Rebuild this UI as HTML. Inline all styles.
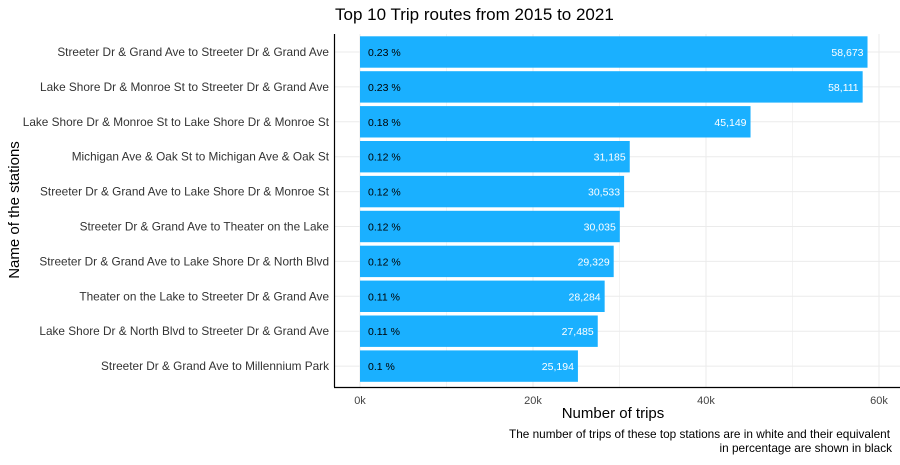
<!DOCTYPE html>
<html><head><meta charset="utf-8"><style>
body{margin:0;background:#fff;font-family:"Liberation Sans",sans-serif}
svg text{font-family:"Liberation Sans",sans-serif}
</style></head><body>
<svg id="chart" width="900" height="460" xmlns="http://www.w3.org/2000/svg">
<text x="335" y="20" font-size="17" fill="#000">Top 10 Trip routes from 2015 to 2021</text>
<g id="grid"></g><g id="bars"></g><g id="ylabels"></g><g id="xticks"></g>
<line x1="334.5" y1="34" x2="334.5" y2="387" stroke="#000" stroke-width="1.2"/>
<line x1="334" y1="387.5" x2="900" y2="387.5" stroke="#000" stroke-width="1.2"/>
<text x="613" y="418" font-size="15" text-anchor="middle">Number of trips</text>
<text transform="translate(19,210) rotate(-90)" font-size="15" text-anchor="middle">Name of the stations</text>
<text x="890" y="438" font-size="11.8" text-anchor="end">The number of trips of these top stations are in white and their equivalent</text>
<text x="892" y="452" font-size="11.8" text-anchor="end">in percentage are shown in black</text>
</svg>
<script>
const categories=["Streeter Dr & Grand Ave to Streeter Dr & Grand Ave","Lake Shore Dr & Monroe St to Streeter Dr & Grand Ave","Lake Shore Dr & Monroe St to Lake Shore Dr & Monroe St","Michigan Ave & Oak St to Michigan Ave & Oak St","Streeter Dr & Grand Ave to Lake Shore Dr & Monroe St","Streeter Dr & Grand Ave to Theater on the Lake","Streeter Dr & Grand Ave to Lake Shore Dr & North Blvd","Theater on the Lake to Streeter Dr & Grand Ave","Lake Shore Dr & North Blvd to Streeter Dr & Grand Ave","Streeter Dr & Grand Ave to Millennium Park"];
const trips=[58673,58111,45149,31185,30533,30035,29329,28284,27485,25194];
const percents=["0.23 %","0.23 %","0.18 %","0.12 %","0.12 %","0.12 %","0.12 %","0.11 %","0.11 %","0.1 %"];
const xTicks=[0,20000,40000,60000];
const xTickLabels=["0k","20k","40k","60k"];
const NS="http://www.w3.org/2000/svg";
const x=v=>360+v*(519/60000);
const y=i=>52+i*34.9;
function mk(t,a,p){const e=document.createElementNS(NS,t);for(const k in a)e.setAttribute(k,a[k]);p.appendChild(e);return e;}
const g=document.getElementById('grid'),b=document.getElementById('bars'),yl=document.getElementById('ylabels'),xt=document.getElementById('xticks');
for(let v=0;v<=60000;v+=10000){const l=mk('line',{x1:x(v),x2:x(v),y1:34,y2:387,stroke:'#ebebeb','stroke-width':v%20000?0.6:1},g);

}
categories.forEach((c,i)=>{const l=mk('line',{x1:335,x2:900,y1:y(i),y2:y(i),stroke:'#ebebeb','stroke-width':1},g);

});
categories.forEach((c,i)=>{
const r=mk('rect',{x:x(0),y:y(i)-15.7,width:x(trips[i])-x(0),height:31.4,fill:'#1AB0FF'},b);


const tv=mk('text',{x:x(trips[i])-4,y:y(i)+4,'font-size':10.5,fill:'#fff','text-anchor':'end'},b);tv.textContent=trips[i].toLocaleString('en-US');


const tp=mk('text',{x:x(0)+8,y:y(i)+4,'font-size':10.5,fill:'#000'},b);tp.textContent=percents[i];


const t=mk('text',{x:329,y:y(i)+4,'font-size':11.8,fill:'#333','text-anchor':'end'},yl);t.textContent=c;


});
xTicks.forEach((v,i)=>{const t=mk('text',{x:x(v),y:404,'font-size':11,fill:'#444','text-anchor':'middle'},xt);t.textContent=xTickLabels[i];

});
</script>
</body></html>
